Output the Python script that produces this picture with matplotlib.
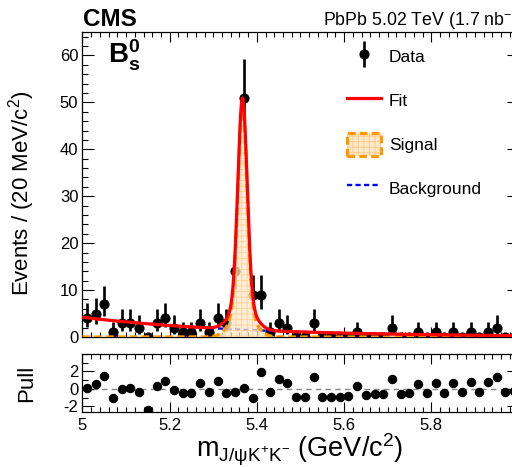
import math
import numpy as np
import matplotlib
matplotlib.use("Agg")
import matplotlib.pyplot as plt
from matplotlib.lines import Line2D
from matplotlib.patches import Rectangle
from matplotlib.legend_handler import HandlerErrorbar, HandlerTuple
from matplotlib.ticker import MultipleLocator

plt.rcParams['font.family'] = ['Liberation Sans', 'DejaVu Sans']
plt.rcParams['mathtext.fontset'] = 'custom'
plt.rcParams['mathtext.rm'] = 'Liberation Sans'
plt.rcParams['mathtext.it'] = 'Liberation Sans:italic'
plt.rcParams['mathtext.bf'] = 'Liberation Sans:bold'
plt.rcParams['axes.unicode_minus'] = False
plt.rcParams['hatch.linewidth'] = 0.6

# ---------------- data ----------------
mass_min = 5.0
mass_max = 6.0
bin_width = 0.02

counts = [4, 5, 7, 1, 3, 3, 2, 0, 3, 4,
          2, 1, 1, 3, 1, 4, 3, 14, 51, 9,
          9, 1, 3, 2, 0, 0, 3, 0, 0, 0,
          0, 1, 0, 0, 0, 2, 0, 0, 1, 0,
          1, 0, 1, 0, 1, 0, 1, 2, 0, 0]

pulls = [0.1, 0.6, 1.45, -0.98, -0.04, 0.07, -0.3, -2.38, 0.34, 0.9,
         -0.11, -0.48, -0.48, 0.64, -0.38, 0.95, -0.48, -0.3, 0.07, -1.06,
         1.9, -0.38, 1.1, 0.72, -0.95, -0.95, 1.33, -0.87, -0.87, -0.87,
         -0.8, 0.34, -0.69, -0.6, -0.6, 1.14, -0.57, -0.49, 0.57, -0.49,
         0.65, -0.42, 0.72, -0.38, 0.76, -0.38, 0.83, 1.4, -0.31, -0.28]

# fit model parameters
sig_yield = 76.0      # signal events
sig_mean = 5.367
sig_sigma1 = 0.0105
sig_sigma2 = 0.025
sig_frac1 = 0.75
bkg_amp = 4.2         # events / bin at 5.0 GeV
bkg_slope = 2.7       # 1/GeV

x_ticks = [5.0, 5.2, 5.4, 5.6, 5.8, 6.0]
x_ticklabels = ['5', '5.2', '5.4', '5.6', '5.8', '']
legend_labels = ['Data', 'Fit', 'Signal', 'Background']

# ---------------- helpers ----------------
n_bins = int(round((mass_max - mass_min) / bin_width))
edges = np.linspace(mass_min, mass_max, n_bins + 1)
centers = 0.5 * (edges[:-1] + edges[1:])
counts = np.array(counts, dtype=float)


def pois_cdf(n, mu):
    return sum(math.exp(-mu) * mu ** k / math.factorial(k) for k in range(n + 1))


def garwood(n, a=0.158655):
    def bis(f, lo, hi):
        for _ in range(80):
            mid = 0.5 * (lo + hi)
            if f(mid) > 0:
                lo = mid
            else:
                hi = mid
        return 0.5 * (lo + hi)
    up = bis(lambda m: pois_cdf(n, m) - a, n, n + 10 * math.sqrt(n + 1) + 5)
    if n == 0:
        lo = 0.0
    else:
        lo = bis(lambda m: a - (1 - pois_cdf(n - 1, m)), 0.0, n)
    return lo, up


err_lo, err_hi = [], []
for c in counts:
    if c == 0:
        err_lo.append(0.0)
        err_hi.append(0.0)
    else:
        lo, up = garwood(int(c))
        err_lo.append(c - lo)
        err_hi.append(up - c)

xf = np.linspace(mass_min, mass_max, 2000)
g1 = np.exp(-0.5 * ((xf - sig_mean) / sig_sigma1) ** 2) / (sig_sigma1 * math.sqrt(2 * math.pi))
g2 = np.exp(-0.5 * ((xf - sig_mean) / sig_sigma2) ** 2) / (sig_sigma2 * math.sqrt(2 * math.pi))
sig = sig_yield * bin_width * (sig_frac1 * g1 + (1 - sig_frac1) * g2)
bkg = bkg_amp * np.exp(-bkg_slope * (xf - mass_min))
tot = sig + bkg

# ---------------- figure ----------------
fig = plt.figure(figsize=(5.12, 4.67), dpi=100)
ax = fig.add_axes([0.1611, 0.2784, 0.8516, 0.6531])
axp = fig.add_axes([0.1611, 0.1178, 0.8516, 0.1242])

orange = '#ff9900'
dash_sig = (0, (2.4, 1.3))
dash_bkg = (0, (2.2, 1.4))
hatch_col = '#fbc98a'
fill_col = '#ffe8c8'

data_h = ax.errorbar(centers, counts, yerr=[err_lo, err_hi], fmt='o', color='black',
                     markersize=6.3, elinewidth=1.9, capsize=0, zorder=2)
ax.plot(xf, bkg, color='#0000ff', lw=1.7, ls=dash_bkg, zorder=3)
ax.fill_between(xf, 0, sig, facecolor=fill_col, edgecolor=hatch_col, hatch='+++',
                linewidth=0, alpha=0.75, zorder=4)
ax.plot(xf, sig, color=orange, lw=2.3, ls=dash_sig, zorder=5)
ax.plot(xf, tot, color='#ff0000', lw=2.3, zorder=6)

ax.set_xlim(mass_min, mass_max)
ax.set_ylim(0, 65)
ax.yaxis.set_major_locator(MultipleLocator(10))
ax.yaxis.set_minor_locator(MultipleLocator(2))
ax.set_xticks(x_ticks)
ax.xaxis.set_minor_locator(MultipleLocator(0.02))
ax.tick_params(which='both', direction='in', top=True, right=True, labelbottom=False,
               labelsize=12, pad=3, width=0.8)
ax.tick_params(axis='y', which='major', length=8.6)
ax.tick_params(axis='y', which='minor', length=4.3)
ax.tick_params(axis='x', which='major', length=7.5)
ax.tick_params(axis='x', which='minor', length=3.6)
ax.set_ylabel('Events / (20 MeV/c$^{\\mathregular{2}}$)', fontsize=16)
ax.yaxis.set_label_coords(-0.105, 0.47)

# pull panel
axp.axhline(0, color='#888888', lw=1.0, ls=(0, (4, 3)), zorder=1)
axp.plot(centers, pulls, 'o', color='black', markersize=5.8, zorder=3)
axp.set_xlim(mass_min, mass_max)
axp.set_ylim(-2.63, 4.0)
axp.set_yticks([-2, 0, 2])
axp.yaxis.set_minor_locator(MultipleLocator(1))
axp.set_xticks(x_ticks)
axp.set_xticklabels(x_ticklabels)
axp.xaxis.set_minor_locator(MultipleLocator(0.02))
axp.tick_params(which='both', direction='in', top=True, right=True, labelsize=12, width=0.8)
axp.tick_params(axis='x', pad=4)
axp.tick_params(axis='y', pad=3)
axp.tick_params(axis='y', which='major', length=8.6)
axp.tick_params(axis='y', which='minor', length=4.3)
axp.tick_params(axis='x', which='major', length=7.0)
axp.tick_params(axis='x', which='minor', length=3.5)
axp.set_ylabel('Pull', fontsize=16)
axp.yaxis.set_label_coords(-0.105, 0.5)

for a in (ax, axp):
    for s in a.spines.values():
        s.set_linewidth(0.9)

# legend
fit_h = Line2D([], [], color='#ff0000', lw=2.3)
sig_fill = Rectangle((0, 0), 1, 1, facecolor=fill_col, edgecolor=hatch_col, hatch='+++', lw=0)
sig_edge = Rectangle((0, 0), 1, 1, facecolor='none', edgecolor=orange, lw=2.3, ls=dash_sig)
bkg_h = Line2D([], [], color='#0000ff', lw=1.7, ls=dash_bkg)
ax.legend([data_h, fit_h, (sig_fill, sig_edge), bkg_h], legend_labels,
          loc='upper left', bbox_to_anchor=(0.607, 0.958), frameon=False,
          fontsize=12.5, handlelength=1.95, handleheight=1.72, labelspacing=1.17,
          handletextpad=0.45, borderpad=0, borderaxespad=0,
          handler_map={type(data_h): HandlerErrorbar(yerr_size=0.75),
                       tuple: HandlerTuple(ndivide=1, pad=0)})

# texts
fig.text(83 / 512, 1 - 26 / 467, 'CMS', fontsize=17.5, fontweight='bold', va='baseline', ha='left')
fig.text(323 / 512, 1 - 26 / 467, 'PbPb 5.02 TeV (1.7 nb$^{\\mathregular{-1}}$)', fontsize=12.8,
         va='baseline', ha='left')
ax.text(0.058, 0.898, r'$\mathbf{B^{0}_{s}}$', transform=ax.transAxes, fontsize=20,
        va='baseline', ha='left')
fig.text(300 / 512, 1 - 457 / 467,
         'm$_{\\mathregular{J/ψK^{+}K^{-}}}$ (GeV/c$^{\\mathregular{2}}$)',
         fontsize=19.5, ha='center', va='baseline')

fig.savefig('out.png', dpi=100)
